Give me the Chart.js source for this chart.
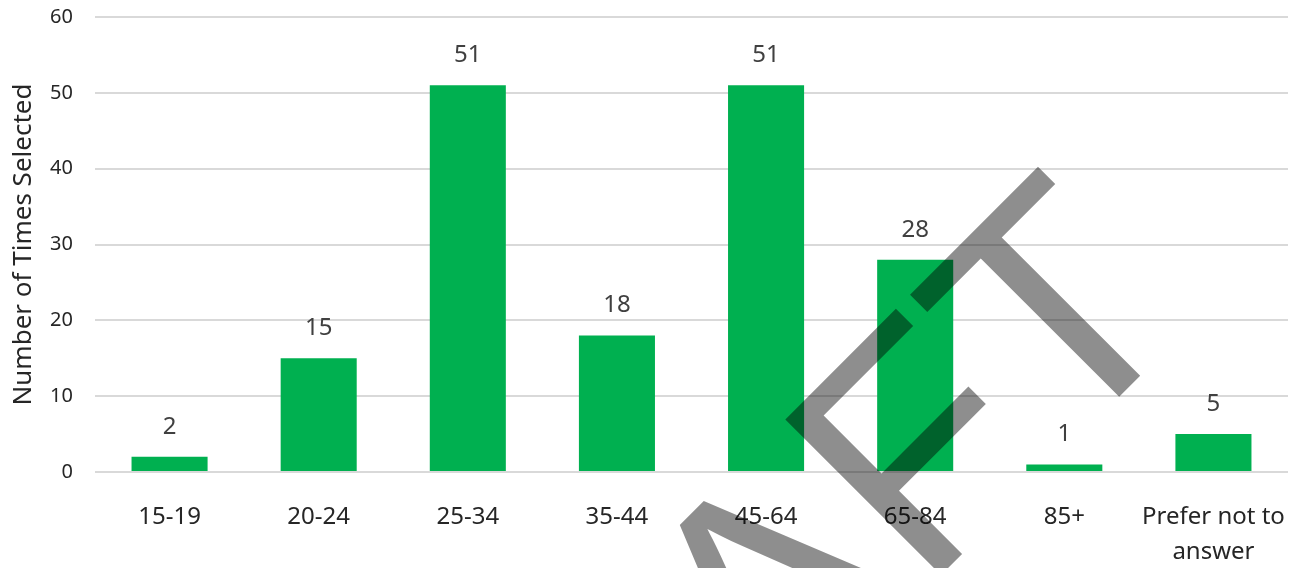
<!DOCTYPE html>
<html>
<head>
<meta charset="utf-8">
<script src="https://cdn.jsdelivr.net/npm/chart.js@4/dist/chart.umd.min.js"></script>
<style>
    html, body { margin: 0; padding: 0; background: #ffffff; }
    #wrap { width: 1292px; height: 568px; position: relative; }
</style>
</head>
<body>
<div id="wrap"><canvas id="ageChart"></canvas></div>
<script>
/* --- Dati --- */
const ageGroups = ['15-19', '20-24', '25-34', '35-44', '45-64', '65-84', '85+', ['Prefer not to', 'answer']];
const timesSelected = [2, 15, 51, 18, 51, 28, 1, 5];
const yTicks = [0, 10, 20, 30, 40, 50, 60];

const FONT = '"Noto Sans", sans-serif';

/* --- Etichette sopra le barre --- */
const valueLabels = {
    id: 'valueLabels',
    afterDatasetsDraw(chart) {
        const { ctx } = chart;
        const meta = chart.getDatasetMeta(0);
        ctx.save();
        ctx.font = `24px ${FONT}`;
        ctx.fillStyle = '#404040';
        ctx.textAlign = 'center';
        ctx.textBaseline = 'middle';
        meta.data.forEach((bar, i) => {
            ctx.fillText(String(timesSelected[i]), bar.x, bar.y - 30);
        });
        ctx.restore();
    }
};

/* --- Filigrana DRAFT: ruotata di 45°, la T termina in basso a destra --- */
const draftWatermark = {
    id: 'draftWatermark',
    afterDraw(chart) {
        const { ctx } = chart;
        ctx.save();
        ctx.font = `320px "Liberation Sans", Arial, sans-serif`;
        ctx.fillStyle = 'rgba(0, 0, 0, 0.443)';
        ctx.textAlign = 'left';
        ctx.textBaseline = 'alphabetic';
        ctx.rotate(-Math.PI / 4);
        // coordinate ruotate: u lungo la riga, v verso il basso del testo
        const stemU = 525.7, baseV = 1072;
        const u0 = stemU - ctx.measureText('DRAF').width - ctx.measureText('T').width / 2;
        ctx.fillText('DRAFT', u0, baseV);
        ctx.restore();
    }
};

const ctx = document.getElementById('ageChart').getContext('2d');
new Chart(ctx, {
    type: 'bar',
    data: {
        labels: ageGroups,
        datasets: [{
            data: timesSelected,
            backgroundColor: '#00B050',
            borderWidth: 0,
            barPercentage: 0.51,
            categoryPercentage: 1.0
        }]
    },
    options: {
        responsive: true,
        maintainAspectRatio: false,
        animation: false,
        layout: { padding: { top: 17, right: 4, left: 0, bottom: 0 } },
        plugins: {
            legend: { display: false },
            tooltip: { enabled: false }
        },
        scales: {
            x: {
                grid: { display: false, drawTicks: false },
                border: { display: false },
                ticks: {
                    color: '#262626',
                    font: { family: FONT, size: 24, lineHeight: 1.45 },
                    padding: 28,
                    maxRotation: 0,
                    autoSkip: false
                },
                afterFit(scale) {
                    scale.height = 96;
                    scale.paddingLeft = 0;
                    scale.paddingRight = 0;
                }
            },
            y: {
                min: 0,
                max: 60,
                afterBuildTicks(scale) { scale.ticks = yTicks.map(v => ({ value: v })); },
                grid: { color: '#D9D9D9', lineWidth: 2, drawTicks: false },
                border: { display: false },
                ticks: {
                    color: '#262626',
                    font: { family: FONT, size: 20 },
                    padding: 22
                },
                title: {
                    display: true,
                    text: 'Number of Times Selected',
                    color: '#262626',
                    font: { family: FONT, size: 26 },
                    padding: { top: 8, bottom: 0 }
                },
                afterFit(scale) {
                    scale.width = 95;
                    scale.paddingTop = 0;
                    scale.paddingBottom = 0;
                }
            }
        }
    },
    plugins: [valueLabels, draftWatermark]
});
</script>
</body>
</html>
